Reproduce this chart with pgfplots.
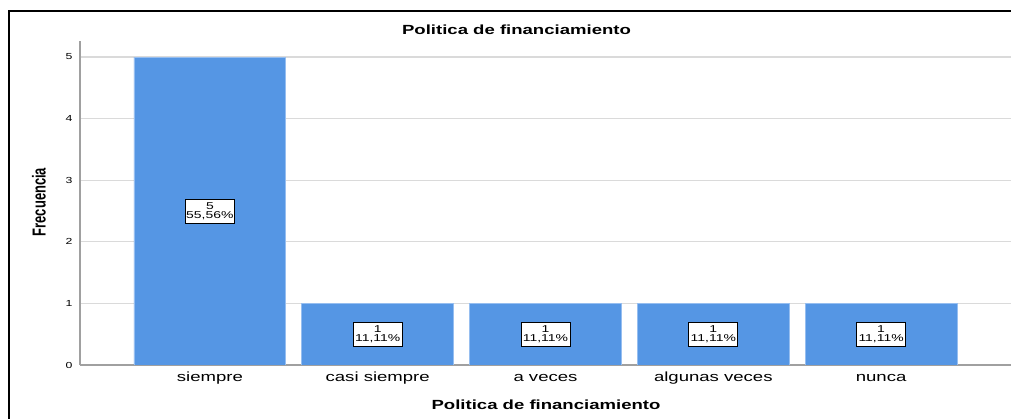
\documentclass[border=0pt]{standalone}
\usepackage{pgfplots}
\pgfplotsset{compat=1.18}
\usepackage{fontspec}
\usepackage{graphicx}
\setmainfont{Liberation Sans}[FakeStretch=1.4]
\newfontfamily\plainsans{Liberation Sans}
\definecolor{barblue}{RGB}{85,150,228}
\definecolor{baredge}{RGB}{150,190,240}
\definecolor{gridgray}{RGB}{218,218,218}
\definecolor{axisgray}{RGB}{160,160,160}
\begin{document}
\begin{tikzpicture}
\useasboundingbox (0,0) rectangle (1011bp,419bp);
\begin{axis}[
  at={(80bp,54bp)}, anchor=south west,
  scale only axis, width=931bp, height=324bp,
  xmin=-0.774, xmax=4.774, ymin=0, ymax=5.26,
  axis x line=bottom, axis y line=left,
  axis line style={-, draw=axisgray, line width=1.3bp},
  xtick={0,1,2,3,4},
  xticklabels={siempre, casi siempre, a veces, algunas veces, nunca},
  ytick={0,1,2,3,4,5},
  major tick length=0pt,
  ymajorgrids, grid style={draw=gridgray, line width=1.3bp},
  /pgf/number format/assume math mode=true,
  xticklabel style={font=\fontsize{13.3}{14}\selectfont, anchor=base, yshift=-17bp},
  yticklabel style={font=\fontsize{8.8}{9}\selectfont, xshift=-4bp},
]
\addplot[ybar, bar width=0.905, fill=barblue, draw=baredge, line width=0.8bp]
  coordinates {(0,5) (1,1) (2,1) (3,1) (4,1)};
\addplot[draw=none, mark=none, nodes near coords, point meta=explicit symbolic,
  nodes near coords style={anchor=center, fill=white, draw=black, line width=0.9bp,
    align=center, font=\fontsize{10}{9.5}\selectfont, minimum width=49bp,
    minimum height=24bp, inner sep=1bp}]
  coordinates {(0,2.5) [{5\\55,56\%}] (1,0.5) [{1\\11,11\%}] (2,0.5) [{1\\11,11\%}] (3,0.5) [{1\\11,11\%}] (4,0.5) [{1\\11,11\%}]};
\end{axis}
\draw[black, line width=1.8bp] (9bp,0bp) -- (9bp,408bp) -- (1011bp,408bp);
\node[font=\bfseries\fontsize{13.3}{14}\selectfont, anchor=base] at (516.5bp,384bp) {Politica de financiamiento};
\node[font=\bfseries\fontsize{13.3}{14}\selectfont, anchor=base] at (546bp,10bp) {Politica de financiamiento};
\node[rotate=90, anchor=center, inner sep=0pt] at (39bp,217bp) {\scalebox{1}[1.45]{\plainsans\bfseries\fontsize{13}{14}\selectfont Frecuencia}};
\end{tikzpicture}
\end{document}
